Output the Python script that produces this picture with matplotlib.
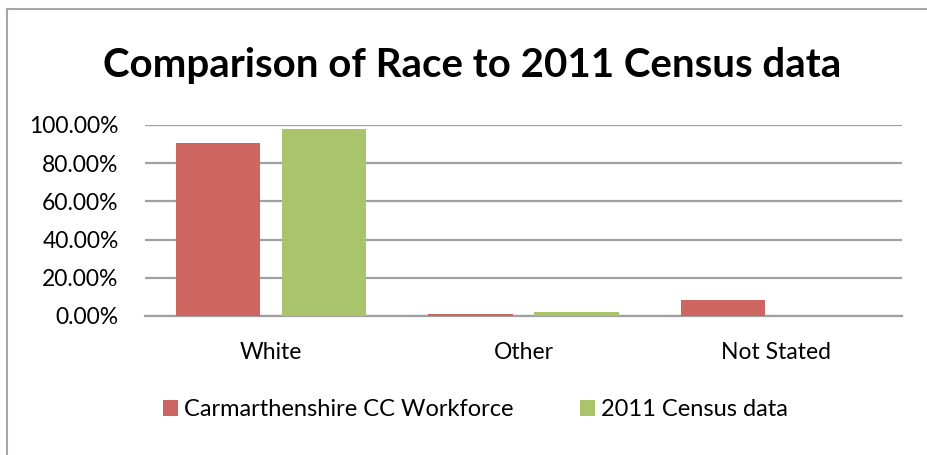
import matplotlib
matplotlib.use("Agg")
import matplotlib.pyplot as plt
from matplotlib.lines import Line2D
from matplotlib.patches import Patch
import numpy as np

# race categories and shares (fraction of total)
categories = ["White", "Other", "Not Stated"]
workforce = [0.907, 0.011, 0.084]
census = [0.981, 0.020, 0.0]
series_names = ["Carmarthenshire CC Workforce", "2011 Census data"]
yticks = [0.0, 0.2, 0.4, 0.6, 0.8, 1.0]

red = "#cd6660"
green = "#aac46c"
grid_col = "#a0a0a0"

plt.rcParams['font.family'] = ['Lato', 'DejaVu Sans']

fig = plt.figure(figsize=(9.27, 4.55), dpi=100)
ax = fig.add_axes([145 / 927, 1 - 316 / 455, 757 / 927, 191 / 455])

x = np.arange(len(categories))
w = 0.333
ax.bar(x - 0.21, workforce, w, color=red, zorder=3)
ax.bar(x + 0.21, census, w, color=green, zorder=3)

ax.set_xlim(-0.5, 2.5)
ax.set_ylim(0, 1.0)
ax.set_yticks(yticks)
ax.set_yticklabels(["%.2f%%" % (t * 100) for t in yticks])
ax.set_xticks(x)
ax.set_xticklabels(categories)
ax.yaxis.grid(True, color=grid_col, linewidth=1.6, zorder=0)
ax.set_axisbelow(True)
for s in ["top", "right", "left"]:
    ax.spines[s].set_visible(False)
ax.spines["bottom"].set_color(grid_col)
ax.spines["bottom"].set_linewidth(1.6)
ax.tick_params(axis="y", length=0, pad=19, labelsize=16.5)
ax.tick_params(axis="x", length=0, pad=19, labelsize=16.5)

fig.text(0.509, 1 - 66 / 455, "Comparison of Race to 2011 Census data",
         ha="center", va="center", fontsize=29, fontweight="bold")

handles = [Patch(facecolor=red), Patch(facecolor=green)]
fig.legend(handles, series_names, loc="center", bbox_to_anchor=(0.513, 0.099),
           ncol=2, frameon=False, fontsize=17, handlelength=0.65, handleheight=0.65,
           handletextpad=0.25, columnspacing=2.8)

# outer chart frame (left and top edges)
fx = 7 / 927
fy = 1 - 9 / 455
fig.add_artist(Line2D([fx, fx], [0, fy], color="#a6a6a6", linewidth=1.5))
fig.add_artist(Line2D([fx, 1], [fy, fy], color="#a6a6a6", linewidth=1.5))

fig.savefig("out.png", dpi=100)
